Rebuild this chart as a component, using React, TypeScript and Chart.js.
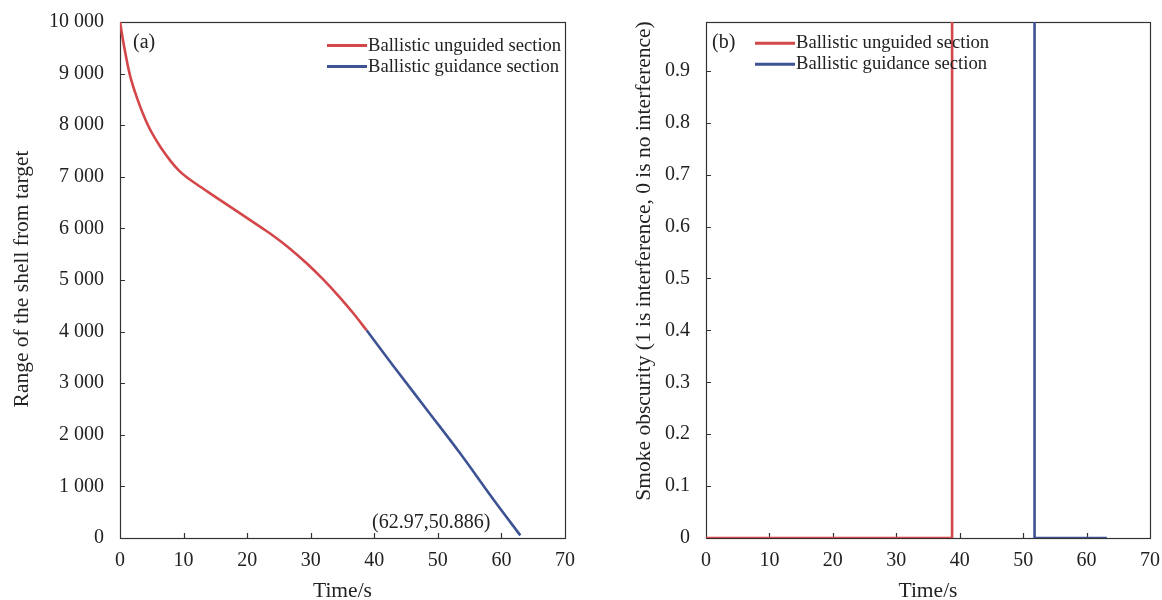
import React, { useEffect, useRef } from 'react';
import { Chart, registerables } from 'chart.js';
Chart.register(...registerables);

// ---- data ----
const rangeUnguidedT = [0, 0.7, 1.5, 2.7, 4.4, 6.5, 8.0, 9.2, 10.5, 12.0, 14.4, 18.9, 22.3, 24.1, 26.5, 29.4, 32.0, 34.6, 36.7, 38.8];
const rangeUnguidedY = [10000, 9490, 9000, 8521, 8000, 7552, 7300, 7130, 6990, 6860, 6660, 6290, 6010, 5858, 5631, 5320, 5006, 4659, 4355, 4025];
const rangeGuidedT = [38.8, 43.0, 48.3, 53.5, 58.8, 62.97];
const rangeGuidedY = [4025, 3335, 2481, 1641, 736, 50.886];

const smokeUnguidedT = [0, 38.8, 38.8];
const smokeUnguidedY = [0, 0, 1];
const smokeGuidedT = [38.8, 51.8, 51.8, 63.2];
const smokeGuidedY = [1, 1, 0, 0];

const timeTicks = [0, 10, 20, 30, 40, 50, 60, 70];
const rangeTicks = [0, 1000, 2000, 3000, 4000, 5000, 6000, 7000, 8000, 9000, 10000];
const smokeTicks = [0, 0.1, 0.2, 0.3, 0.4, 0.5, 0.6, 0.7, 0.8, 0.9];

const seriesNames = ['Ballistic unguided section', 'Ballistic guidance section'];
const RED = '#d3474a';
const BLUE = '#3d5394';
const INK = '#222222';
const AXIS = '#333333';
const FAMILY = '"Liberation Serif", "Times New Roman", serif';

const toPoints = (xs: number[], ys: number[]) => xs.map((x, i) => ({ x, y: ys[i] }));

type Decor = {
  xTitle: string;
  yTitle: string;
  yTitleBaselineX: number;
  yTitleCenterY: number;
  xTitleBaselineY: number;
  panelLabel: string;
  panelLabelX: number;
  panelLabelBaseline: number;
  legendLineX0: number;
  legendLineX1: number;
  legendRowsY: number[];
  legendTextX: number;
  legendBaselines: number[];
  note?: { text: string; x: number; baseline: number };
  xMarks: number[];
  yMarks: number[];
};

function decorPlugin(d: Decor) {
  return {
    id: 'decor',
    beforeDatasetsDraw(chart: any) {
      const { ctx, chartArea: a, scales } = chart;
      ctx.save();
      ctx.strokeStyle = AXIS;
      ctx.lineWidth = 1.2;
      ctx.strokeRect(Math.round(a.left) + 0.5, Math.round(a.top) + 0.5, Math.round(a.right - a.left), Math.round(a.bottom - a.top));
      ctx.beginPath();
      for (const v of d.xMarks) {
        const px = Math.round(scales.x.getPixelForValue(v)) + 0.5;
        ctx.moveTo(px, a.bottom);
        ctx.lineTo(px, a.bottom - 5);
      }
      for (const v of d.yMarks) {
        const py = Math.round(scales.y.getPixelForValue(v)) + 0.5;
        ctx.moveTo(a.left, py);
        ctx.lineTo(a.left + 5, py);
      }
      ctx.stroke();
      ctx.restore();
    },
    afterDraw(chart: any) {
      const { ctx, chartArea: a } = chart;
      ctx.save();
      ctx.fillStyle = INK;
      ctx.textBaseline = 'alphabetic';
      // x title
      ctx.font = `21.5px ${FAMILY}`;
      ctx.textAlign = 'center';
      ctx.fillText(d.xTitle, (a.left + a.right) / 2, d.xTitleBaselineY);
      // y title
      ctx.save();
      ctx.translate(d.yTitleBaselineX, d.yTitleCenterY);
      ctx.rotate(-Math.PI / 2);
      ctx.fillText(d.yTitle, 0, 0);
      ctx.restore();
      // panel label and note
      ctx.font = `20px ${FAMILY}`;
      ctx.textAlign = 'left';
      ctx.fillText(d.panelLabel, d.panelLabelX, d.panelLabelBaseline);
      if (d.note) ctx.fillText(d.note.text, d.note.x, d.note.baseline);
      // legend
      ctx.font = `18.6px ${FAMILY}`;
      chart.data.datasets.forEach((ds: any, i: number) => {
        ctx.strokeStyle = ds.borderColor;
        ctx.lineWidth = 3;
        ctx.beginPath();
        ctx.moveTo(d.legendLineX0, d.legendRowsY[i]);
        ctx.lineTo(d.legendLineX1, d.legendRowsY[i]);
        ctx.stroke();
        ctx.fillStyle = INK;
        ctx.fillText(ds.label, d.legendTextX, d.legendBaselines[i]);
      });
      ctx.restore();
    },
  };
}

function baseOptions(yMin: number, yMax: number, yTicks: number[], yFmt: (v: number) => string, yWidth: number, padRight: number) {
  const tickFont = { family: FAMILY, size: 20 };
  return {
    animation: false,
    responsive: false,
    maintainAspectRatio: false,
    layout: { padding: { top: 22, right: padRight, left: 0, bottom: 0 } },
    plugins: { legend: { display: false }, tooltip: { enabled: false } },
    elements: { point: { radius: 0 }, line: { borderWidth: 2.6 } },
    scales: {
      x: {
        type: 'linear',
        min: 0,
        max: 70,
        afterBuildTicks: (s: any) => { s.ticks = timeTicks.map((v) => ({ value: v })); },
        afterFit: (s: any) => { s.height = 62; s.paddingLeft = 0; s.paddingRight = 0; },
        grid: { display: false, drawTicks: false },
        border: { display: false },
        ticks: { padding: 11, font: tickFont, color: INK, maxRotation: 0, autoSkip: false },
      },
      y: {
        type: 'linear',
        min: yMin,
        max: yMax,
        afterBuildTicks: (s: any) => { s.ticks = yTicks.map((v) => ({ value: v })); },
        afterFit: (s: any) => { s.width = yWidth; s.paddingTop = 0; s.paddingBottom = 0; },
        grid: { display: false, drawTicks: false },
        border: { display: false },
        ticks: { padding: 16, font: tickFont, color: INK, autoSkip: false, callback: (v: any) => yFmt(Number(v)) },
      },
    },
  };
}

const fmtRange = (v: number) => String(v).replace(/\B(?=(\d{3})+(?!\d))/g, ' ');
const fmtSmoke = (v: number) => (v === 0 ? '0' : v.toFixed(1));

export default function App() {
  const leftRef = useRef<HTMLCanvasElement>(null);
  const rightRef = useRef<HTMLCanvasElement>(null);

  useEffect(() => {
    const left = new Chart(leftRef.current as HTMLCanvasElement, {
      type: 'line',
      data: {
        datasets: [
          { label: seriesNames[0], data: toPoints(rangeUnguidedT, rangeUnguidedY), borderColor: RED, cubicInterpolationMode: 'monotone' },
          { label: seriesNames[1], data: toPoints(rangeGuidedT, rangeGuidedY), borderColor: BLUE, cubicInterpolationMode: 'monotone' },
        ],
      },
      options: baseOptions(0, 10000, rangeTicks, fmtRange, 120, 16) as any,
      plugins: [
        decorPlugin({
          xTitle: 'Time/s',
          yTitle: 'Range of the shell from target',
          yTitleBaselineX: 28,
          yTitleCenterY: 279,
          xTitleBaselineY: 597,
          panelLabel: '(a)',
          panelLabelX: 133,
          panelLabelBaseline: 47.5,
          legendLineX0: 327,
          legendLineX1: 367,
          legendRowsY: [45.5, 66.5],
          legendTextX: 368,
          legendBaselines: [50.7, 71.7],
          note: { text: '(62.97,50.886)', x: 372, baseline: 528 },
          xMarks: [10, 20, 30, 40, 50, 60],
          yMarks: [1000, 2000, 3000, 4000, 5000, 6000, 7000, 8000, 9000],
        }) as any,
      ],
    } as any);

    const right = new Chart(rightRef.current as HTMLCanvasElement, {
      type: 'line',
      data: {
        datasets: [
          { label: seriesNames[0], data: toPoints(smokeUnguidedT, smokeUnguidedY), borderColor: RED, tension: 0 },
          { label: seriesNames[1], data: toPoints(smokeGuidedT, smokeGuidedY), borderColor: BLUE, tension: 0 },
        ],
      },
      options: baseOptions(0, 0.994, smokeTicks, fmtSmoke, 125, 12) as any,
      plugins: [
        decorPlugin({
          xTitle: 'Time/s',
          yTitle: 'Smoke obscurity (1 is interference, 0 is no interference)',
          yTitleBaselineX: 68.5,
          yTitleCenterY: 261,
          xTitleBaselineY: 597,
          panelLabel: '(b)',
          panelLabelX: 131,
          panelLabelBaseline: 47.5,
          legendLineX0: 174,
          legendLineX1: 214,
          legendRowsY: [43.3, 64.3],
          legendTextX: 215,
          legendBaselines: [48.3, 69],
          xMarks: [10, 20, 30, 40, 50, 60],
          yMarks: [0.1, 0.2, 0.3, 0.4, 0.5, 0.6, 0.7, 0.8, 0.9],
        }) as any,
      ],
    } as any);

    return () => {
      left.destroy();
      right.destroy();
    };
  }, []);

  return (
    <div style={{ position: 'fixed', left: 0, top: 0, width: 1162, height: 600, background: '#ffffff' }}>
      <canvas ref={leftRef} width={581} height={600} style={{ position: 'absolute', left: 0, top: 0, width: 581, height: 600 }} />
      <canvas ref={rightRef} width={581} height={600} style={{ position: 'absolute', left: 581, top: 0, width: 581, height: 600 }} />
    </div>
  );
}
